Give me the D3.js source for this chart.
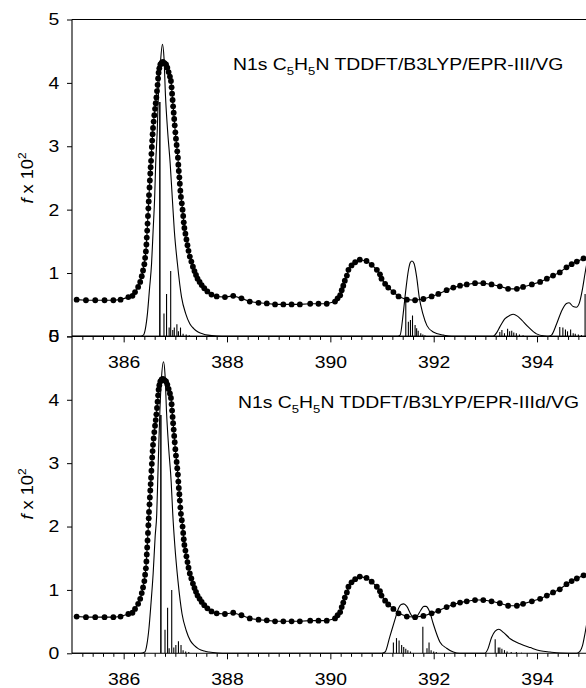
<!DOCTYPE html>
<html>
<head>
<meta charset="utf-8">
<script src="https://cdn.jsdelivr.net/npm/d3@7"></script>
<style>
  html, body { margin: 0; padding: 0; background: #fff; }
  svg { display: block; }
  text { font-family: "Liberation Sans", Arial, Helvetica, sans-serif; fill: #000; }
</style>
</head>
<body>
<svg id="chart" width="586" height="688"></svg>
<script>
// Measured N1s spectrum of pyridine: photon energy (eV) and f x 10^2
const expEnergy = [
  385.09, 385.27, 385.45, 385.63, 385.80, 385.94, 386.09, 386.17, 386.22, 386.28,
  386.32, 386.35, 386.375, 386.40, 386.415, 386.43, 386.44, 386.447, 386.455, 386.462,
  386.47, 386.478, 386.485, 386.49, 386.50, 386.507, 386.515, 386.522, 386.53, 386.537,
  386.545, 386.552, 386.56, 386.568, 386.58, 386.593, 386.607, 386.62, 386.633, 386.645,
  386.656, 386.666, 386.676, 386.69, 386.71, 386.735, 386.76, 386.79, 386.82, 386.845,
  386.87, 386.895, 386.915, 386.928, 386.937, 386.947, 386.957, 386.968, 386.978, 386.988,
  387.00, 387.012, 387.025, 387.037, 387.05, 387.058, 387.067, 387.078, 387.087, 387.097,
  387.108, 387.125, 387.14, 387.152, 387.163, 387.175, 387.195, 387.215, 387.235, 387.255,
  387.28, 387.31, 387.34, 387.37, 387.40, 387.43, 387.47, 387.51, 387.56, 387.62,
  387.70, 387.80, 387.96, 388.12, 388.28, 388.44, 388.61, 388.77,
  388.93, 389.09, 389.25, 389.41, 389.61, 389.77, 389.93, 390.09, 390.14, 390.19,
  390.22, 390.25, 390.28, 390.32, 390.35, 390.41, 390.48, 390.57, 390.70, 390.80,
  390.90, 390.96, 390.99, 391.06, 391.12, 391.22, 391.32, 391.48, 391.64, 391.80,
  391.96, 392.09, 392.25, 392.38, 392.51, 392.64, 392.80, 392.96, 393.12, 393.28,
  393.44, 393.61, 393.73, 393.90, 394.06, 394.19, 394.31, 394.44, 394.57, 394.67,
  394.77, 394.90
];
const expF = [
  0.58, 0.57, 0.57, 0.57, 0.57, 0.58, 0.62, 0.64, 0.70, 0.78,
  0.86, 0.95, 1.04, 1.14, 1.24, 1.34, 1.45, 1.56, 1.67, 1.78,
  1.90, 2.02, 2.13, 2.23, 2.35, 2.46, 2.57, 2.67, 2.77, 2.88,
  2.99, 3.09, 3.19, 3.29, 3.39, 3.49, 3.59, 3.68, 3.77, 3.87,
  3.97, 4.07, 4.16, 4.23, 4.29, 4.32, 4.33, 4.31, 4.29, 4.24,
  4.17, 4.10, 4.03, 3.93, 3.83, 3.73, 3.63, 3.53, 3.43, 3.33,
  3.22, 3.12, 3.02, 2.92, 2.82, 2.71, 2.61, 2.51, 2.41, 2.30,
  2.20, 2.10, 2.00, 1.90, 1.80, 1.71, 1.62, 1.53, 1.44, 1.35,
  1.26, 1.18, 1.10, 1.03, 0.97, 0.91, 0.86, 0.81, 0.76, 0.71,
  0.66, 0.63, 0.62, 0.64, 0.60, 0.55, 0.53, 0.52,
  0.505, 0.505, 0.505, 0.505, 0.515, 0.515, 0.515, 0.55, 0.60, 0.65,
  0.73, 0.80, 0.88, 0.96, 1.05, 1.12, 1.17, 1.21, 1.19, 1.13,
  1.05, 0.98, 0.91, 0.83, 0.77, 0.70, 0.63, 0.58, 0.57, 0.59,
  0.63, 0.67, 0.73, 0.77, 0.80, 0.82, 0.84, 0.84, 0.82, 0.79,
  0.75, 0.75, 0.78, 0.82, 0.86, 0.91, 0.96, 1.01, 1.09, 1.14,
  1.18, 1.23
];

// Broadened TDDFT spectrum, EPR-III basis
const calcEnergyIII = [
  385.00, 386.30, 386.38, 386.42, 386.46, 386.50, 386.54, 386.57, 386.60, 386.62,
  386.65, 386.67, 386.71, 386.75, 386.78, 386.81, 386.85, 386.90, 386.94, 386.98,
  387.04, 387.12, 387.20, 387.28, 387.36, 387.44, 387.55, 387.63, 387.80, 388.00,
  391.30, 391.35, 391.41, 391.46, 391.51, 391.55, 391.58, 391.62, 391.67, 391.72,
  391.79, 391.87, 391.99, 392.19, 392.35, 393.15, 393.22, 393.28, 393.38, 393.47,
  393.54, 393.62, 393.70, 393.83, 393.99, 394.15, 394.22, 394.28, 394.38, 394.48,
  394.57, 394.62, 394.70, 394.76, 394.82, 394.88, 394.93, 395.00
];
const calcFIII = [
  0, 0, 0.02, 0.12, 0.36, 0.75, 1.15, 1.67, 2.20, 2.73,
  3.25, 3.78, 4.30, 4.61, 4.40, 3.78, 3.25, 2.73, 2.20, 1.67,
  1.15, 0.62, 0.36, 0.20, 0.12, 0.07, 0.035, 0.02, 0.005, 0,
  0, 0.02, 0.36, 0.73, 1.04, 1.17, 1.19, 1.15, 0.94, 0.62,
  0.36, 0.17, 0.07, 0.02, 0, 0, 0.06, 0.15, 0.28, 0.33,
  0.35, 0.32, 0.26, 0.15, 0.04, 0.005, 0, 0.02, 0.20, 0.41,
  0.52, 0.53, 0.47, 0.46, 0.53, 0.75, 1.00, 1.30
];

// Broadened TDDFT spectrum, EPR-IIId basis
const calcEnergyIIId = [
  385.00, 386.32, 386.41, 386.45, 386.49, 386.53, 386.57, 386.61, 386.64, 386.66,
  386.68, 386.70, 386.73, 386.77, 386.80, 386.83, 386.87, 386.92, 386.95, 386.99,
  387.05, 387.13, 387.21, 387.29, 387.37, 387.45, 387.56, 387.65, 387.82, 388.00,
  391.00, 391.06, 391.15, 391.25, 391.32, 391.37, 391.42, 391.48, 391.57, 391.64,
  391.69, 391.75, 391.81, 391.85, 391.92, 391.99, 392.12, 392.25, 392.38, 392.50,
  392.99, 393.05, 393.12, 393.19, 393.26, 393.35, 393.48, 393.67, 393.87, 394.06,
  394.25, 394.45, 394.77, 394.83, 394.88, 394.93, 395.00
];
const calcFIIId = [
  0, 0, 0.02, 0.14, 0.40, 0.80, 1.25, 1.85, 2.20, 2.75,
  3.30, 3.80, 4.32, 4.60, 4.40, 3.80, 3.25, 2.70, 2.20, 1.70,
  1.15, 0.62, 0.36, 0.20, 0.12, 0.07, 0.035, 0.02, 0.005, 0,
  0, 0.02, 0.26, 0.53, 0.71, 0.77, 0.78, 0.74, 0.60, 0.57,
  0.60, 0.68, 0.74, 0.74, 0.66, 0.47, 0.18, 0.08, 0.02, 0,
  0, 0.07, 0.25, 0.35, 0.38, 0.33, 0.23, 0.15, 0.09, 0.04,
  0.02, 0.005, 0, 0.03, 0.12, 0.32, 0.65
];

// Individual transitions (stick spectrum), EPR-III
const stickEnergyIII = [
  386.70, 386.78, 386.83, 386.88, 386.91, 386.95, 386.98, 387.03, 387.06, 387.10,
  387.15, 387.21, 387.27, 391.46, 391.51, 391.55, 391.59, 391.64, 391.67, 391.70,
  391.75, 391.79, 391.83, 393.28, 393.32, 393.37, 393.43, 393.47, 393.51, 393.55,
  393.60, 393.66, 393.73, 394.44, 394.50, 394.55, 394.59, 394.65, 394.70, 394.74,
  394.80, 394.86, 394.93
];
const stickFIII = [
  3.70, 0.36, 0.67, 0.14, 1.03, 0.10, 0.14, 0.19, 0.08, 0.14,
  0.04, 0.03, 0.02, 0.62, 0.23, 0.26, 0.33, 0.18, 0.13, 0.09,
  0.05, 0.03, 0.02, 0.07, 0.10, 0.05, 0.12, 0.08, 0.09, 0.06,
  0.05, 0.03, 0.02, 0.15, 0.14, 0.11, 0.08, 0.11, 0.05, 0.04,
  0.03, 0.02, 0.67
];

// Individual transitions (stick spectrum), EPR-IIId
const stickEnergyIIId = [
  386.72, 386.80, 386.85, 386.88, 386.93, 386.97, 387.01, 387.06, 387.11, 387.15,
  387.20, 387.26, 391.22, 391.28, 391.33, 391.38, 391.42, 391.46, 391.50, 391.55,
  391.79, 391.87, 391.91, 391.95, 392.00, 392.05, 393.19, 393.25, 393.28, 393.32,
  393.37, 393.42, 393.50, 393.60, 393.70
];
const stickFIIId = [
  3.76, 0.37, 0.72, 0.08, 1.00, 0.09, 0.13, 0.19, 0.13, 0.05,
  0.03, 0.02, 0.17, 0.24, 0.20, 0.13, 0.10, 0.07, 0.05, 0.03,
  0.42, 0.08, 0.17, 0.05, 0.03, 0.02, 0.22, 0.09, 0.09, 0.07,
  0.05, 0.03, 0.02, 0.02, 0.01
];

const xMajorTicks = [386, 388, 390, 392, 394];
const yTicks = [0, 1, 2, 3, 4, 5];

// Panel captions: [text, isSubscript]
const captionIII = [["N1s C", false], ["5", true], ["H", false], ["5", true], ["N TDDFT/B3LYP/EPR-III/VG", false]];
const captionIIId = [["N1s C", false], ["5", true], ["H", false], ["5", true], ["N TDDFT/B3LYP/EPR-IIId/VG", false]];

// ---------- drawing ----------
const svg = d3.select("#chart");
const stretch = 1.14;          // horizontal widening of the lettering
const labelSize = 17;

const x = d3.scaleLinear().domain([385, 395]).range([72, 588.7]);
const panelH = 316.9;

const panels = [
  { top: 19.5, calcE: calcEnergyIII, calcF: calcFIII, stE: stickEnergyIII, stF: stickFIII,
    caption: captionIII, capX: 233, capY: 70, ylabY: 178 },
  { top: 19.5 + panelH, calcE: calcEnergyIIId, calcF: calcFIIId, stE: stickEnergyIIId, stF: stickFIIId,
    caption: captionIIId, capX: 238, capY: 408, ylabY: 494 }
];

const minorTicks = d3.range(0, 51).map(i => 385 + i * 0.2)
  .filter(v => v > 385.01 && !xMajorTicks.some(m => Math.abs(m - v) < 1e-6));

panels.forEach(p => {
  const y = d3.scaleLinear().domain([0, 5]).range([p.top + panelH, p.top]);
  const g = svg.append("g");

  // sticks
  g.append("g").selectAll("line")
    .data(p.stE.map((e, i) => ({ e, f: p.stF[i] })))
    .join("line")
    .attr("x1", d => x(d.e)).attr("x2", d => x(d.e))
    .attr("y1", y(0)).attr("y2", d => y(d.f))
    .attr("stroke", "#000")
    .attr("stroke-width", d => d.f > 2 ? 1.5 : 1.1);

  // broadened theory
  const calcLine = d3.line().x(d => x(d[0])).y(d => y(d[1])).curve(d3.curveMonotoneX);
  g.append("path")
    .datum(p.calcE.map((e, i) => [e, p.calcF[i]]))
    .attr("d", calcLine)
    .attr("fill", "none").attr("stroke", "#000").attr("stroke-width", 1.1);

  // experiment: connecting line + dots
  const expPts = expEnergy.map((e, i) => [e, expF[i]]);
  g.append("path")
    .datum(expPts)
    .attr("d", d3.line().x(d => x(d[0])).y(d => y(d[1])))
    .attr("fill", "none").attr("stroke", "#000").attr("stroke-width", 1.1);
  g.append("g").selectAll("circle")
    .data(expPts).join("circle")
    .attr("cx", d => x(d[0])).attr("cy", d => y(d[1]))
    .attr("r", 2.9).attr("fill", "#000");

  // top frame line
  g.append("line")
    .attr("x1", x(385)).attr("x2", x(395))
    .attr("y1", y(5)).attr("y2", y(5))
    .attr("stroke", "#000").attr("stroke-width", 1.1);

  // bottom axis: minor ticks
  g.append("g")
    .attr("transform", `translate(0,${y(0)})`)
    .call(d3.axisBottom(x).tickValues(minorTicks).tickSize(3.5).tickFormat(""))
    .call(a => a.select(".domain").remove())
    .call(a => a.selectAll("line").attr("stroke-width", 1));

  // bottom axis: major ticks and labels
  const xAx = g.append("g")
    .attr("transform", `translate(0,${y(0)})`)
    .call(d3.axisBottom(x).tickValues(xMajorTicks).tickSize(6).tickPadding(14).tickFormat(d3.format("d")));
  xAx.select(".domain").attr("stroke-width", 1.1).attr("d", `M${x(385)},0H${x(395)}`);
  xAx.selectAll("text")
    .attr("font-size", labelSize).attr("font-family", null)
    .attr("transform", `scale(${stretch},1)`);

  // left axis
  const yAx = g.append("g")
    .attr("transform", `translate(${x(385)},0)`)
    .call(d3.axisLeft(y).tickValues(yTicks).tickSize(5).tickPadding(7.7).tickFormat(d3.format("d")));
  yAx.select(".domain").attr("stroke-width", 1.1).attr("d", `M0,${y(0)}V${y(5)}`);
  yAx.selectAll("text")
    .attr("font-size", labelSize).attr("font-family", null)
    .attr("x", -(5 + 7.7) / stretch)
    .attr("transform", `scale(${stretch},1)`);

  // caption
  const cap = g.append("g")
    .attr("transform", `translate(${p.capX},${p.capY}) scale(${stretch},1)`)
    .append("text").attr("font-size", labelSize);
  let shifted = false;
  p.caption.forEach(([txt, sub]) => {
    const t = cap.append("tspan").text(txt);
    if (sub && !shifted) { t.attr("dy", 4.5).attr("font-size", 11.5); shifted = true; }
    else if (sub) { t.attr("font-size", 11.5); }
    else if (shifted) { t.attr("dy", -4.5); shifted = false; }
  });

  // y-axis title: f x 10^2
  const yl = g.append("g")
    .attr("transform", `translate(33,${p.ylabY}) rotate(-90) scale(${stretch},1)`)
    .append("text").attr("font-size", 16).attr("text-anchor", "middle");
  yl.append("tspan").attr("font-style", "italic").text("f");
  yl.append("tspan").text(" x 10");
  yl.append("tspan").attr("font-size", 10.5).attr("dy", -7).text("2");
});
</script>
</body>
</html>
